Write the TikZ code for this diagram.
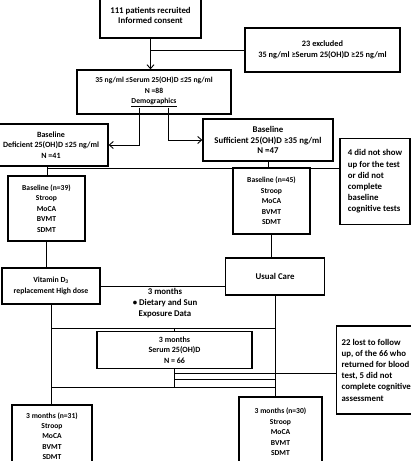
\documentclass[tikz,border=0pt]{standalone}
\usepackage{fontspec}
\setmainfont{Carlito}
\usetikzlibrary{arrows.meta}
\begin{document}
\begin{tikzpicture}[x=1pt,y=-1pt,
  box/.style={draw, line width=1.3pt, align=center, inner sep=2pt,
    font=\bfseries\fontsize{7.6}{10.4}\selectfont},
  bigtext/.style={font=\bfseries\fontsize{8.8}{10.6}\selectfont},
  sidebox/.style={draw, line width=1.3pt, align=left, inner xsep=5pt,
    font=\bfseries\fontsize{8.8}{11.2}\selectfont},
  plain/.style={align=center, font=\bfseries\fontsize{8.8}{10.8}\selectfont},
  conn/.style={line width=0.9pt},
  arr/.style={conn, -{Straight Barb[length=4pt,width=7pt]}}]
\useasboundingbox (0,0) rectangle (411,461);
\fill[white] (0,0) rectangle (411,461);
% nodes
\node[box, bigtext, minimum width=101pt, minimum height=45pt] (b1) at (150.5,15.5)
  {111 patients recruited\\Informed consent};
\node[box, font=\bfseries\fontsize{8.3}{11}\selectfont, minimum width=155pt, minimum height=44pt] (excl) at (322.5,50)
  {23 excluded\\35 ng/ml ≥Serum 25(OH)D ≥25 ng/ml};
\node[box, minimum width=154pt, minimum height=44pt] (b3) at (154,92)
  {35 ng/ml ≤Serum 25(OH)D ≤25 ng/ml\\N =88\\\underline{Demographics}};
\node[box, font=\bfseries\fontsize{8}{10.6}\selectfont, minimum width=114pt, minimum height=42pt] (def) at (51,145)
  {Baseline\\Deficient 25(OH)D ≤25 ng/ml\\N =41};
\node[box, bigtext, minimum width=130pt, minimum height=42pt] (suf) at (268,140)
  {Baseline\\Sufficient 25(OH)D ≥35 ng/ml\\N =47};
\node[sidebox, minimum width=70pt, minimum height=86pt] (notshow) at (375,181.5)
  {4 did not show\\up for the test\\or did not\\complete\\baseline\\cognitive tests};
\node[box, minimum width=77pt, minimum height=65pt] (n39) at (46.5,208.5)
  {Baseline (n=39)\\Stroop\\MoCA\\BVMT\\SDMT};
\node[box, minimum width=77pt, minimum height=66pt] (n45) at (271.5,201)
  {Baseline (n=45)\\Stroop\\MoCA\\BVMT\\SDMT};
\node[box, font=\bfseries\fontsize{7.8}{10.4}\selectfont, minimum width=98pt, minimum height=36pt] (vitd) at (51,286)
  {Vitamin D\textsubscript{3}\\replacement High dose};
\node[box, bigtext, minimum width=99pt, minimum height=37pt] (usual) at (275,276.5)
  {Usual Care};
\node[plain] (note) at (165,303)
  {3 months\\• Dietary and Sun\\Exposure Data};
\node[box, font=\bfseries\fontsize{8}{10.6}\selectfont, minimum width=155pt, minimum height=37pt] (serum) at (174.5,350)
  {3 months\\Serum 25(OH)D\\N = 66};
\node[sidebox, anchor=west, minimum height=88pt] (lost) at (336,370)
  {22 lost to follow\\up, of the 66 who\\returned for blood\\test, 5 did not\\complete cognitive\\assessment};
\node[box, font=\bfseries\fontsize{7.6}{10.2}\selectfont, minimum width=80pt, minimum height=62pt] (n31) at (52,436)
  {3 months (n=31)\\Stroop\\MoCA\\BVMT\\SDMT};
\node[box, minimum width=83pt, minimum height=70pt] (n30) at (280.5,432)
  {3 months (n=30)\\Stroop\\MoCA\\BVMT\\SDMT};
% helper coordinates
\coordinate (h1) at (47,168);
\coordinate (y328) at (0,328);
\coordinate (y373) at (0,373);
\coordinate (y379) at (0,379);
\coordinate (y387) at (0,387);
% connectors
\draw[arr] (b1.south) -- (b1.south |- b3.north);
\draw[conn] (excl.west) -- (excl.west -| b1.south);
\draw[arr] ([xshift=-15pt,yshift=7pt]b3.south) |- (def.east);
\draw[arr] ([xshift=14pt,yshift=7pt]b3.south) |- (suf.west);
\draw[conn] (h1 |- def.south) -- (h1 |- n39.north);
\draw[conn] (h1) -- (h1 -| notshow.west);
\draw[conn] (suf.south) -- (suf.south |- n45.north);
\draw[conn] (n39.south) -- (n39.south |- vitd.north);
\draw[conn] (n45.south) -- (n45.south |- usual.north);
\draw[conn] (vitd.east) -- (vitd.east -| usual.west);
\draw[conn] (vitd.south) -- (vitd.south |- n31.north);
\draw[conn] (usual.south) -- (usual.south |- n30.north);
\draw[conn] (vitd.south |- y328) -- (usual.south |- y328);
\draw[conn] (serum.north |- y328) -- (serum.north);
\draw[conn] (serum.south) -- (serum.south |- y387);
\draw[conn] (serum.south |- y373) -- (lost.west |- y373);
\draw[conn] (serum.south |- y379) -- (usual.south |- y379);
\draw[conn] (vitd.south |- y387) -- (usual.south |- y387);
\end{tikzpicture}
\end{document}
